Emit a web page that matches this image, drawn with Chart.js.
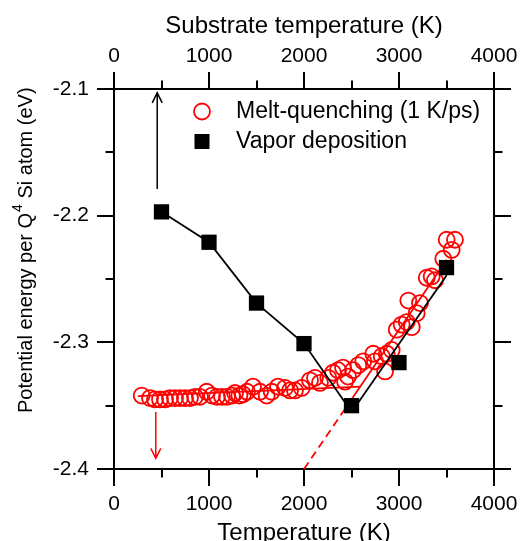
<!DOCTYPE html>
<html>
<head>
<meta charset="utf-8">
<script src="https://cdn.jsdelivr.net/npm/chart.js@4.4.1/dist/chart.umd.min.js"></script>
<style>
    html, body { margin: 0; padding: 0; background: #fff; }
    #wrap { width: 522px; height: 541px; }
</style>
</head>
<body>
<div id="wrap"><canvas id="energyChart" width="522" height="541"></canvas></div>
<script>
// melt-quenching (1 K/ps), red open circles
const meltT = [292, 379, 432, 484, 537, 589, 642, 695, 747, 800, 853, 905, 976, 1032, 1084, 1137, 1189, 1242, 1274, 1320,
    1358, 1400, 1463, 1537, 1607, 1660, 1726, 1800, 1853, 1905, 1976, 2063, 2116, 2168, 2256, 2305, 2358, 2411, 2432, 2463,
    2516, 2572, 2624, 2729, 2747, 2818, 2853, 2871, 2923, 2976, 3028, 3081, 3098, 3134, 3186, 3221, 3292, 3344, 3379, 3466,
    3502, 3555, 3589];
const meltE = [-2.342, -2.344, -2.345, -2.345, -2.345, -2.344, -2.344, -2.344, -2.344, -2.344, -2.343, -2.343, -2.339, -2.342, -2.343, -2.343, -2.343, -2.342, -2.340, -2.342,
    -2.341, -2.339, -2.335, -2.339, -2.342, -2.339, -2.335, -2.336, -2.338, -2.338, -2.336, -2.330, -2.328, -2.332, -2.328, -2.324, -2.322, -2.320, -2.331, -2.327,
    -2.322, -2.318, -2.315, -2.309, -2.315, -2.311, -2.323, -2.309, -2.306, -2.290, -2.286, -2.284, -2.267, -2.288, -2.277, -2.269, -2.249, -2.248, -2.251, -2.234,
    -2.219, -2.227, -2.219];

// vapor deposition, black squares
const vaporT = [500, 1000, 1500, 2000, 2500, 3000, 3500];
const vaporE = [-2.197, -2.221, -2.269, -2.301, -2.350, -2.316, -2.241];

// guide lines
const vaporLowT = [500, 1000, 1500, 2000, 2502];
const vaporLowE = [-2.197, -2.221, -2.269, -2.301, -2.355];
const vaporHighT = [2502, 3502];
const vaporHighE = [-2.355, -2.247];
const meltGlassT = [250, 2590];
const meltGlassE = [-2.3425, -2.335];
const meltLiquidT = [2440, 3502];
const meltLiquidE = [-2.3516, -2.2348];
const meltExtrapT = [2000, 2440];
const meltExtrapE = [-2.4, -2.3516];

// arrows: [T, from E, to E]
const arrowBlack = [455, -2.179, -2.103];
const arrowRed = [440, -2.355, -2.3916];

// axes
const xTicks = [0, 1000, 2000, 3000, 4000];
const yTicks = [-2.4, -2.3, -2.2, -2.1];

const FONT = "'Liberation Sans', Arial, sans-serif";

function pts(xs, ys) {
    return xs.map((x, i) => ({ x: x, y: ys[i] }));
}

function lineSet(xs, ys, color, order, dash) {
    return {
        data: pts(xs, ys),
        showLine: true,
        pointRadius: 0,
        borderColor: color,
        borderWidth: 1.8,
        borderDash: dash || [],
        fill: false,
        order: order
    };
}

// tick marks (major + minor), outward on all four sides
const tickMarks = {
    id: 'tickMarks',
    afterDraw(chart) {
        const ctx = chart.ctx;
        const a = chart.chartArea;
        const xs = chart.scales.x, ys = chart.scales.y;
        ctx.save();
        ctx.strokeStyle = '#000';
        ctx.lineWidth = 2;
        ctx.beginPath();
        for (let v = 0; v <= 4000; v += 500) {
            const len = v % 1000 === 0 ? 17 : 8.5;
            const px = Math.round(xs.getPixelForValue(v));
            ctx.moveTo(px, a.bottom); ctx.lineTo(px, a.bottom + len);
            ctx.moveTo(px, a.top); ctx.lineTo(px, a.top - len);
        }
        for (let k = 0; k <= 6; k++) {
            const v = -2.4 + k * 0.05;
            const len = k % 2 === 0 ? 17 : 8.5;
            const py = Math.round(ys.getPixelForValue(v));
            ctx.moveTo(a.left, py); ctx.lineTo(a.left - len, py);
            ctx.moveTo(a.right, py); ctx.lineTo(a.right + len, py);
        }
        ctx.stroke();
        ctx.restore();
    }
};

// arrows, legend and y title
const extras = {
    id: 'extras',
    afterDraw(chart) {
        const ctx = chart.ctx;
        const a = chart.chartArea;
        const xs = chart.scales.x, ys = chart.scales.y;

        function arrow(def, color) {
            const x = xs.getPixelForValue(def[0]);
            const y0 = ys.getPixelForValue(def[1]);
            const y1 = ys.getPixelForValue(def[2]);
            const dir = y1 < y0 ? 1 : -1;
            ctx.save();
            ctx.strokeStyle = color;
            ctx.lineWidth = 1.5;
            ctx.beginPath();
            ctx.moveTo(x, y0); ctx.lineTo(x, y1);
            ctx.moveTo(x - 5, y1 + dir * 10); ctx.lineTo(x, y1); ctx.lineTo(x + 5, y1 + dir * 10);
            ctx.stroke();
            ctx.restore();
        }
        arrow(arrowBlack, '#000');
        arrow(arrowRed, '#ff0000');

        // legend
        const lx = a.left + 88;
        const items = [chart.data.datasets[0], chart.data.datasets[1]];
        ctx.save();
        ctx.font = '23px ' + FONT;
        ctx.fillStyle = '#000';
        ctx.textBaseline = 'alphabetic';
        ctx.textAlign = 'left';
        // circle
        ctx.beginPath();
        ctx.arc(lx, a.top + 22.5, 8, 0, Math.PI * 2);
        ctx.strokeStyle = items[0].borderColor;
        ctx.lineWidth = items[0].borderWidth;
        ctx.stroke();
        ctx.fillText(items[0].label, lx + 34, a.top + 28.5);
        // square
        ctx.fillStyle = items[1].backgroundColor;
        ctx.fillRect(lx - 7.5, a.top + 45, 15, 15);
        ctx.fillStyle = '#000';
        ctx.fillText(items[1].label, lx + 34, a.top + 58.5);
        ctx.restore();

        // y axis title with superscript
        ctx.save();
        ctx.translate(32, 413);
        ctx.rotate(-Math.PI / 2);
        ctx.fillStyle = '#000';
        ctx.textAlign = 'left';
        ctx.textBaseline = 'alphabetic';
        ctx.font = '20px ' + FONT;
        const p1 = 'Potential energy per Q';
        ctx.fillText(p1, 0, 0);
        let w = ctx.measureText(p1).width + 1;
        ctx.font = '14px ' + FONT;
        ctx.fillText('4', w, -10);
        w += ctx.measureText('4').width;
        ctx.font = '20px ' + FONT;
        ctx.fillText(' Si atom (eV)', w, 0);
        ctx.restore();
    }
};

document.addEventListener('DOMContentLoaded', function () {
    let canvas = document.getElementById('energyChart').getContext('2d');

    const commonX = {
        type: 'linear',
        min: 0,
        max: 4000,
        grid: { display: false, drawTicks: false },
        border: { display: true, color: '#000', width: 2 }
    };

    new Chart(canvas, {
        type: 'scatter',
        data: {
            datasets: [
                {
                    label: 'Melt-quenching (1 K/ps)',
                    data: pts(meltT, meltE),
                    pointStyle: 'circle',
                    pointRadius: 8,
                    borderColor: '#ff0000',
                    backgroundColor: 'rgba(0,0,0,0)',
                    borderWidth: 1.8,
                    showLine: false,
                    order: 2
                },
                {
                    label: 'Vapor deposition',
                    data: pts(vaporT, vaporE),
                    pointStyle: 'rect',
                    pointRadius: 10.8,
                    backgroundColor: '#000',
                    borderColor: '#000',
                    borderWidth: 0,
                    showLine: false,
                    order: 0
                },
                lineSet(vaporLowT, vaporLowE, '#000', 1),
                lineSet(vaporHighT, vaporHighE, '#000', 1),
                lineSet(meltGlassT, meltGlassE, '#ff0000', 3),
                lineSet(meltLiquidT, meltLiquidE, '#ff0000', 3),
                lineSet(meltExtrapT, meltExtrapE, '#ff0000', 3, [8, 5])
            ]
        },
        options: {
            responsive: false,
            animation: false,
            events: [],
            layout: { padding: 0 },
            plugins: {
                legend: { display: false },
                tooltip: { enabled: false }
            },
            scales: {
                x: Object.assign({}, commonX, {
                    position: 'bottom',
                    afterFit(scale) { scale.height = 72; scale.paddingLeft = 0; scale.paddingRight = 0; },
                    afterBuildTicks(scale) { scale.ticks = xTicks.map(v => ({ value: v })); },
                    ticks: { color: '#000', font: { family: FONT, size: 21 }, padding: 23, maxRotation: 0, callback: v => String(v) },
                    title: {
                        display: true, text: 'Temperature (K)', color: '#000',
                        font: { family: FONT, size: 24, lineHeight: 0.6 }, padding: { top: 0, bottom: 0 }
                    }
                }),
                x2: Object.assign({}, commonX, {
                    position: 'top',
                    afterFit(scale) { scale.height = 89; scale.paddingLeft = 0; scale.paddingRight = 0; },
                    afterBuildTicks(scale) { scale.ticks = xTicks.map(v => ({ value: v })); },
                    ticks: { color: '#000', font: { family: FONT, size: 21 }, padding: 20, maxRotation: 0, callback: v => String(v) },
                    title: {
                        display: true, text: 'Substrate temperature (K)', color: '#000',
                        font: { family: FONT, size: 24, lineHeight: 1 }, padding: { top: 14, bottom: 0 }
                    }
                }),
                y: {
                    type: 'linear',
                    position: 'left',
                    min: -2.4,
                    max: -2.1,
                    afterFit(scale) { scale.width = 114; },
                    afterBuildTicks(scale) { scale.ticks = yTicks.map(v => ({ value: v })); },
                    grid: { display: false, drawTicks: false },
                    border: { display: true, color: '#000', width: 2 },
                    ticks: {
                        color: '#000', font: { family: FONT, size: 21 }, padding: 25,
                        callback: v => v.toFixed(1)
                    }
                },
                y2: {
                    type: 'linear',
                    position: 'right',
                    min: -2.4,
                    max: -2.1,
                    afterFit(scale) { scale.width = 28; },
                    grid: { display: false, drawTicks: false },
                    border: { display: true, color: '#000', width: 2 },
                    ticks: { display: false }
                }
            }
        },
        plugins: [tickMarks, extras]
    });
});
</script>
</body>
</html>
